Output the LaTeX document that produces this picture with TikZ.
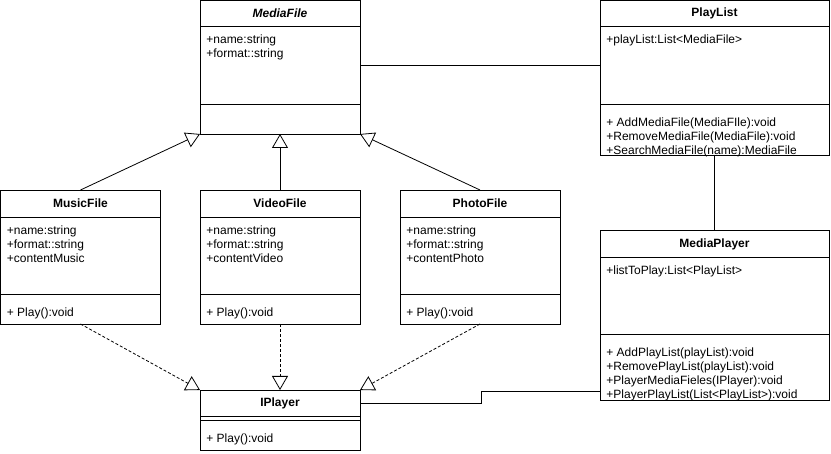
\documentclass[tikz,border=0pt]{standalone}
\usepackage{fontspec}
\setmainfont{Liberation Sans}
\usetikzlibrary{arrows.meta,positioning}

\begin{document}
\begin{tikzpicture}[x=1pt,y=-1pt,node distance=0pt,line width=0.8pt]
  \tikzstyle{head}=[draw,inner sep=0pt,outer sep=0pt,anchor=north west,
    font=\fontsize{12}{14}\selectfont\bfseries]
  \tikzstyle{part}=[draw,inner sep=0pt,outer sep=0pt]
  \tikzstyle{attr}=[inner xsep=6pt,inner ysep=8pt,align=left,anchor=north west,
    font=\fontsize{12}{14}\selectfont]
  \tikzstyle{meth}=[attr,inner ysep=13pt]
  \tikzstyle{gen}=[-{Triangle[open,length=14pt,width=16pt]}]
  \tikzstyle{real}=[gen,dashed,dash pattern=on 3pt off 2pt]
  \useasboundingbox (0,0) rectangle (831,454);
  % abstract media file
  \node[head,minimum width=160pt,minimum height=26pt] (mediafile) at (200,0) {\textit{MediaFile}};
  \node[part,minimum width=160pt,minimum height=78pt,below=of mediafile] (mediafile-a) {};
  \node[part,minimum width=160pt,minimum height=30pt,below=of mediafile-a] (mediafile-m) {};
  \node[attr] (mediafile-at) at (mediafile-a.north west) {+name:string\\+format::string};
  % play list
  \node[head,minimum width=229pt,minimum height=26pt] (playlist) at (600,0) {PlayList};
  \node[part,minimum width=229pt,minimum height=78pt,below=of playlist] (playlist-a) {};
  \node[part,minimum width=229pt,minimum height=51pt,below=of playlist-a] (playlist-m) {};
  \node[attr] (playlist-at) at (playlist-a.north west) {+playList:List<MediaFile>};
  \node[meth] (playlist-mt) at (playlist-m.north west) {+ AddMediaFile(MediaFIle):void\\+RemoveMediaFile(MediaFile):void\\+SearchMediaFile(name):MediaFile};
  % media player
  \node[head,minimum width=229pt,minimum height=27pt] (mediaplayer) at (600,230.5) {MediaPlayer};
  \node[part,minimum width=229pt,minimum height=77pt,below=of mediaplayer] (mediaplayer-a) {};
  \node[part,minimum width=229pt,minimum height=66pt,below=of mediaplayer-a] (mediaplayer-m) {};
  \node[attr] (mediaplayer-at) at (mediaplayer-a.north west) {+listToPlay:List<PlayList>};
  \node[meth] (mediaplayer-mt) at (mediaplayer-m.north west) {+ AddPlayList(playList):void\\+RemovePlayList(playList):void\\+PlayerMediaFieles(IPlayer):void\\+PlayerPlayList(List<PlayList>):void};
  % concrete files
  \node[head,minimum width=160pt,minimum height=27pt] (music) at (0.5,190) {MusicFile};
  \node[part,minimum width=160pt,minimum height=77pt,below=of music] (music-a) {};
  \node[part,minimum width=160pt,minimum height=30pt,below=of music-a] (music-m) {};
  \node[attr] (music-at) at (music-a.north west) {+name:string\\+format::string\\+contentMusic};
  \node[meth] (music-mt) at (music-m.north west) {+ Play():void};
  \node[head,minimum width=160pt,minimum height=27pt] (video) at (200,190) {VideoFile};
  \node[part,minimum width=160pt,minimum height=77pt,below=of video] (video-a) {};
  \node[part,minimum width=160pt,minimum height=30pt,below=of video-a] (video-m) {};
  \node[attr] (video-at) at (video-a.north west) {+name:string\\+format::string\\+contentVideo};
  \node[meth] (video-mt) at (video-m.north west) {+ Play():void};
  \node[head,minimum width=160pt,minimum height=27pt] (photo) at (400,190) {PhotoFile};
  \node[part,minimum width=160pt,minimum height=77pt,below=of photo] (photo-a) {};
  \node[part,minimum width=160pt,minimum height=30pt,below=of photo-a] (photo-m) {};
  \node[attr] (photo-at) at (photo-a.north west) {+name:string\\+format::string\\+contentPhoto};
  \node[meth] (photo-mt) at (photo-m.north west) {+ Play():void};
  % player interface
  \node[head,minimum width=160pt,minimum height=26pt] (iplayer) at (200,390) {IPlayer};
  \node[part,minimum width=160pt,minimum height=4pt,below=of iplayer] (iplayer-a) {};
  \node[part,minimum width=160pt,minimum height=30pt,below=of iplayer-a] (iplayer-m) {};
  \node[meth] (iplayer-mt) at (iplayer-m.north west) {+ Play():void};
  % connectors
  \draw[gen] (music.north) -- (mediafile-m.south west);
  \draw[gen] (video.north) -- (mediafile-m.south);
  \draw[gen] (photo.north) -- (mediafile-m.south east);
  \draw[real] (music-m.south) -- (iplayer.north west);
  \draw[real] (video-m.south) -- (iplayer.north);
  \draw[real] (photo-m.south) -- (iplayer.north east);
  \draw (mediafile-a.east) -- (playlist-a.west);
  \draw (playlist-m.south) -- (mediaplayer.north);
  \draw (iplayer.east) -- ++(121,0) |- ([yshift=9pt]mediaplayer-m.south west);
\end{tikzpicture}
\end{document}
